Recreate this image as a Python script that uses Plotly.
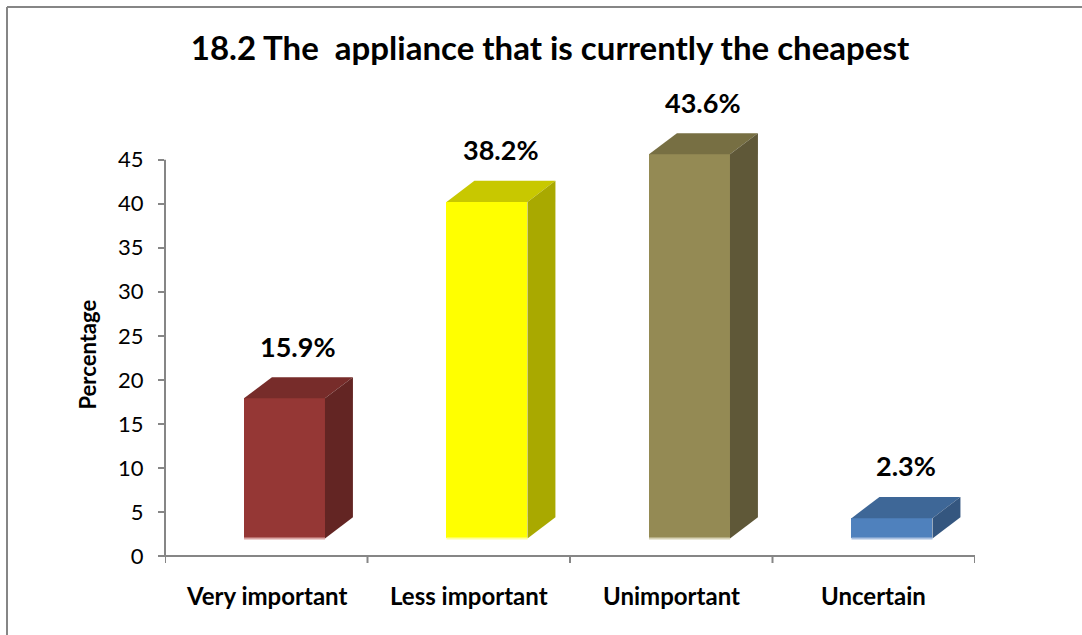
import plotly.graph_objects as go

# Survey result: importance of the appliance being the cheapest
categories = ["Very important", "Less important", "Unimportant", "Uncertain"]
values = [15.9, 38.2, 43.6, 2.3]
value_labels = ["15.9%", "38.2%", "43.6%", "2.3%"]
y_ticks = [0, 5, 10, 15, 20, 25, 30, 35, 40, 45]

front_colors = ["#953735", "#FFFF00", "#948A54", "#4F81BD"]
top_colors = ["#772C2A", "#C8C800", "#776F43", "#3E6797"]
side_colors = ["#632523", "#A9A900", "#5F5838", "#34567F"]
edge_colors = ["#D9A3A2", "#FFFF9A", "#D6D1B4", "#A9C0E0"]

FONT = "Lato"
W, H = 1082, 635
ML, MR, MT, MB = 165, 107, 98, 79
Y_MAX = 52.0      # room above 45 for the raised 3D tops and labels
AXIS_TOP = 45

base = 2.0        # front face raised by the 3D depth offset
left_off = -0.11  # front face left edge relative to category centre
bar_w = 0.40      # front face width
dx, dy = 0.138, 2.4  # depth projection of the box

plot_w = W - ML - MR
plot_h = H - MT - MB


def px_to_paper_x(px):
    return (px - ML) / plot_w


def px_to_paper_y(py):
    return (H - MB - py) / plot_h


fig = go.Figure()

for i, v in enumerate(values):
    x0 = i + left_off
    x1 = x0 + bar_w
    top = base + v
    # top face
    fig.add_trace(go.Scatter(
        x=[x0, x0 + dx, x1 + dx, x1, x0],
        y=[top, top + dy, top + dy, top, top],
        fill="toself", fillcolor=top_colors[i], mode="lines",
        line=dict(width=0), hoverinfo="skip", showlegend=False))
    # side face
    fig.add_trace(go.Scatter(
        x=[x1, x1 + dx, x1 + dx, x1, x1],
        y=[base, base + dy, top + dy, top, base],
        fill="toself", fillcolor=side_colors[i], mode="lines",
        line=dict(width=0), hoverinfo="skip", showlegend=False))

# front faces
fig.add_trace(go.Bar(
    x=[i + left_off + bar_w / 2 for i in range(len(values))],
    y=values, base=base, width=bar_w,
    marker=dict(color=front_colors, line=dict(width=0)),
    hoverinfo="skip", showlegend=False))

# light bottom edge of each front face
for i in range(len(values)):
    x0 = i + left_off
    fig.add_trace(go.Scatter(
        x=[x0, x0 + bar_w], y=[base, base], mode="lines",
        line=dict(color=edge_colors[i], width=2),
        hoverinfo="skip", showlegend=False))

annotations = []
for i, v in enumerate(values):
    annotations.append(dict(
        x=i + left_off + (bar_w + dx) / 2, y=base + v + dy,
        xref="x", yref="y", text=f"<b>{value_labels[i]}</b>",
        showarrow=False, yanchor="middle", yshift=31,
        font=dict(family=FONT, size=27, color="#000000")))

for i, c in enumerate(categories):
    annotations.append(dict(
        x=i, y=0, xref="x", yref="paper", text=f"<b>{c}</b>",
        showarrow=False, yanchor="middle", yshift=-39,
        font=dict(family=FONT, size=24, color="#000000")))

annotations.append(dict(
    x=0, y=px_to_paper_y(355), xref="paper", yref="paper",
    text="<b>Percentage</b>",
    showarrow=False, textangle=-90, xshift=-93,
    font=dict(family=FONT, size=22, color="#000000")))

shapes = []
# y axis line, ending at the top tick
shapes.append(dict(type="line", xref="paper", yref="y",
                   x0=0, x1=0, y0=0, y1=AXIS_TOP,
                   line=dict(color="#868686", width=2)))
# category boundary ticks on the x axis
for b in [-0.5, 0.5, 1.5, 2.5, 3.5]:
    shapes.append(dict(type="line", xref="x", yref="paper",
                       x0=b, x1=b, y0=0, y1=px_to_paper_y(H - MB + 7),
                       line=dict(color="#868686", width=2)))
# x axis line
shapes.append(dict(type="line", xref="paper", yref="paper",
                   x0=px_to_paper_x(158), x1=1, y0=0, y1=0,
                   line=dict(color="#868686", width=2)))
# chart frame (top and left edges)
fx, fy = px_to_paper_x(7), px_to_paper_y(7)
shapes.append(dict(type="line", xref="paper", yref="paper",
                   x0=fx, x1=px_to_paper_x(W + 5), y0=fy, y1=fy,
                   line=dict(color="#868686", width=2)))
shapes.append(dict(type="line", xref="paper", yref="paper",
                   x0=fx, x1=fx, y0=px_to_paper_y(H + 5), y1=fy,
                   line=dict(color="#868686", width=2)))

fig.update_layout(
    width=W, height=H,
    margin=dict(l=ML, r=MR, t=MT, b=MB),
    paper_bgcolor="#FFFFFF", plot_bgcolor="#FFFFFF",
    title=dict(text="<b>18.2 The  appliance that is currently the cheapest</b>",
               x=550 / W, xanchor="center", y=1 - 48 / H, yanchor="middle",
               font=dict(family=FONT, size=33, color="#000000")),
    xaxis=dict(range=[-0.5, 3.5], showticklabels=False, showgrid=False,
               zeroline=False, showline=False, ticks="", fixedrange=True),
    yaxis=dict(range=[0, Y_MAX], tickvals=y_ticks, showgrid=False, zeroline=False,
               showline=False,
               ticks="outside", ticklen=6, tickcolor="#868686", tickwidth=2,
               ticklabelstandoff=10,
               tickfont=dict(family=FONT, size=22, color="#000000"),
               fixedrange=True),
    annotations=annotations,
    shapes=shapes,
    bargap=0,
)

fig.write_html("out.html")
